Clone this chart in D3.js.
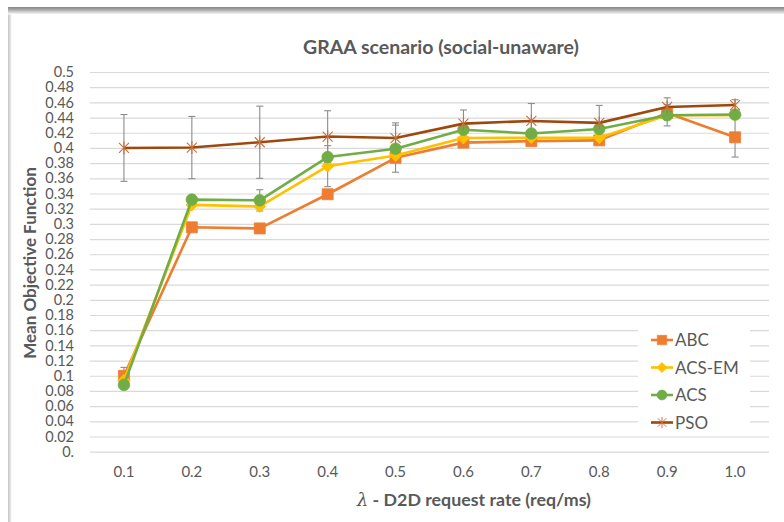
<!DOCTYPE html>
<html>
<head>
<meta charset="utf-8">
<script src="https://cdn.jsdelivr.net/npm/d3@7"></script>
<style>
  html, body { margin: 0; padding: 0; background: #ffffff; }
  svg { display: block; }
  text { font-family: Lato, "Open Sans", sans-serif; fill: #595959; }
</style>
</head>
<body>
<svg id="chart" width="784" height="522"></svg>
<script>
// Request rates on the category axis
const categories = ["0.1", "0.2", "0.3", "0.4", "0.5", "0.6", "0.7", "0.8", "0.9", "1.0"];

// Mean objective function per algorithm
const abcValues   = [0.100, 0.2955, 0.294, 0.339, 0.387, 0.407, 0.409, 0.410, 0.446, 0.414];
const acsEmValues = [0.094, 0.325, 0.323, 0.376, 0.390, 0.413, 0.4135, 0.4135, 0.443, 0.443];
const acsValues   = [0.088, 0.332, 0.331, 0.388, 0.399, 0.424, 0.419, 0.425, 0.443, 0.444];
const psoValues   = [0.400, 0.4005, 0.4075, 0.415, 0.413, 0.432, 0.4355, 0.433, 0.454, 0.4565];

// Error bar half-widths (null where no bar is shown)
const abcErrors   = [0.011, null, null, null, null, null, null, null, null, 0.026];
const acsEmErrors = [null, null, null, 0.027, null, null, null, null, null, null];
const acsErrors   = [null, null, 0.014, null, 0.031, null, null, null, 0.014, null];
const psoErrors   = [0.044, 0.041, 0.0475, 0.034, 0.020, 0.018, 0.023, 0.023, 0.012, 0.007];

const seriesNames = ["ABC", "ACS-EM", "ACS", "PSO"];

// Value axis tick labels
const yTickValues = d3.range(0, 26).map(i => +(i * 0.02).toFixed(2));
const yTickLabels = ["0.", "0.02", "0.04", "0.06", "0.08", "0.1", "0.12", "0.14", "0.16", "0.18",
                     "0.2", "0.22", "0.24", "0.26", "0.28", "0.3", "0.32", "0.34", "0.36", "0.38",
                     "0.4", "0.42", "0.44", "0.46", "0.48", "0.5"];

const series = [
  { name: seriesNames[0], values: abcValues,   errors: abcErrors,   line: "#ED7D31", fill: "#ED7D31", marker: "square" },
  { name: seriesNames[1], values: acsEmValues, errors: acsEmErrors, line: "#FFC000", fill: "#FFC000", marker: "diamond" },
  { name: seriesNames[2], values: acsValues,   errors: acsErrors,   line: "#70AD47", fill: "#70AD47", marker: "circle" },
  { name: seriesNames[3], values: psoValues,   errors: psoErrors,   line: "#9E480E", fill: "#C8703A", marker: "star" }
];

const svg = d3.select("#chart");
const defs = svg.append("defs");

// Card frame: shaded top edge and soft left edge
const topGrad = defs.append("linearGradient").attr("id", "topShade")
  .attr("x1", 0).attr("y1", 0).attr("x2", 0).attr("y2", 1);
topGrad.append("stop").attr("offset", "0").attr("stop-color", "#858585");
topGrad.append("stop").attr("offset", "0.35").attr("stop-color", "#a8a8a8");
topGrad.append("stop").attr("offset", "1").attr("stop-color", "#ffffff");
const leftGrad = defs.append("linearGradient").attr("id", "leftShade")
  .attr("x1", 0).attr("y1", 0).attr("x2", 1).attr("y2", 0);
leftGrad.append("stop").attr("offset", "0").attr("stop-color", "#c4c4c4");
leftGrad.append("stop").attr("offset", "1").attr("stop-color", "#f2f2f2");

svg.append("rect").attr("x", 8).attr("y", 8).attr("width", 3.5).attr("height", 514).attr("fill", "url(#leftShade)");
svg.append("rect").attr("x", 8).attr("y", 7).attr("width", 776).attr("height", 7.5).attr("fill", "url(#topShade)");

// Scales
const x = d3.scaleBand().domain(categories).range([90, 769]).padding(0);
const y = d3.scaleLinear().domain([0, 0.5]).range([451.7, 72]);
const cx = c => x(c) + x.bandwidth() / 2;

// Gridlines
const grid = svg.append("g").attr("transform", "translate(90,0)")
  .call(d3.axisLeft(y).tickValues(yTickValues).tickSize(-679).tickFormat(""));
grid.select(".domain").remove();
grid.selectAll(".tick line").attr("stroke", "#d9d9d9").attr("stroke-width", 1.2);

// Value axis labels
const yAxis = svg.append("g").attr("transform", "translate(74,0)")
  .call(d3.axisLeft(y).tickValues(yTickValues).tickSize(0).tickPadding(0)
    .tickFormat((d, i) => yTickLabels[i]));
yAxis.select(".domain").remove();
yAxis.selectAll("text").attr("font-size", 14.5).attr("fill", "#595959")
  .style("font-family", "Lato, 'Open Sans', sans-serif");

// Category axis labels
const xAxis = svg.append("g").attr("transform", "translate(0,466)")
  .call(d3.axisBottom(x).tickSize(0).tickPadding(0));
xAxis.select(".domain").remove();
xAxis.selectAll("text").attr("font-size", 15).attr("fill", "#595959").attr("dy", "0.71em")
  .style("font-family", "Lato, 'Open Sans', sans-serif");

// Marker shapes
function markerPath(kind) {
  if (kind === "square") return "M-5.5,-5.5H5.5V5.5H-5.5Z";
  if (kind === "diamond") return "M0,-6L6,0L0,6L-6,0Z";
  if (kind === "circle") return d3.symbol(d3.symbolCircle, Math.PI * 5.8 * 5.8)();
  return "M-5,-5L5,5M-5,5L5,-5M0,-6.5V6.5";
}
function drawMarker(g, s, scale) {
  const p = g.append("path").attr("d", markerPath(s.marker))
    .attr("transform", `scale(${scale})`);
  if (s.marker === "star") {
    p.attr("fill", "none").attr("stroke", s.fill).attr("stroke-width", 1.1);
  } else {
    p.attr("fill", s.fill).attr("stroke", s.fill).attr("stroke-width", 0.8);
  }
}

// Error bars
const errG = svg.append("g");
series.forEach(s => {
  s.values.forEach((v, i) => {
    const e = s.errors[i];
    if (e == null) return;
    const px = cx(categories[i]);
    const top = y(v + e), bot = y(v - e);
    errG.append("line").attr("x1", px).attr("x2", px).attr("y1", top).attr("y2", bot)
      .attr("stroke", "#8c8c8c").attr("stroke-width", 1.1);
    [top, bot].forEach(yy => errG.append("line")
      .attr("x1", px - 3.5).attr("x2", px + 3.5).attr("y1", yy).attr("y2", yy)
      .attr("stroke", "#8c8c8c").attr("stroke-width", 1.1));
  });
});

// Lines and markers
const line = d3.line().x((d, i) => cx(categories[i])).y(d => y(d));
series.forEach(s => {
  const g = svg.append("g");
  g.append("path").datum(s.values).attr("d", line)
    .attr("fill", "none").attr("stroke", s.line).attr("stroke-width", 2.6)
    .attr("stroke-linejoin", "round");
  s.values.forEach((v, i) => {
    const m = g.append("g").attr("transform", `translate(${cx(categories[i])},${y(v)})`);
    drawMarker(m, s, 1);
  });
});

// Title
svg.append("text").attr("x", 441).attr("y", 54).attr("text-anchor", "middle")
  .attr("font-size", 19.5).attr("font-weight", "bold").attr("fill", "#595959")
  .text("GRAA scenario (social-unaware)");

// Axis titles
svg.append("text").attr("transform", "translate(36,263) rotate(-90)")
  .attr("text-anchor", "middle").attr("font-size", 17).attr("font-weight", "bold")
  .text("Mean Objective Function");

const xt = svg.append("text").attr("x", 474).attr("y", 506).attr("text-anchor", "middle")
  .attr("font-size", 17.8).attr("font-weight", "bold");
xt.append("tspan").attr("font-style", "italic").attr("font-weight", "normal")
  .style("font-family", "'DejaVu Serif', serif").text("λ");
xt.append("tspan").text(" - D2D request rate (req/ms)");

// Legend
const legend = svg.append("g");
legend.append("rect").attr("x", 638).attr("y", 328).attr("width", 112).attr("height", 105).attr("fill", "#ffffff");
const legendY = d3.scalePoint().domain(seriesNames).range([340, 422.5]);
series.forEach(s => {
  const g = legend.append("g").attr("transform", `translate(0,${legendY(s.name)})`);
  g.append("line").attr("x1", 651).attr("x2", 673).attr("y1", 0).attr("y2", 0)
    .attr("stroke", s.line).attr("stroke-width", 2.6);
  const m = g.append("g").attr("transform", "translate(662,0)");
  drawMarker(m, s, 0.85);
  g.append("text").attr("x", 675).attr("y", 0).attr("dy", "0.36em")
    .attr("font-size", 17).text(s.name);
});
</script>
</body>
</html>
